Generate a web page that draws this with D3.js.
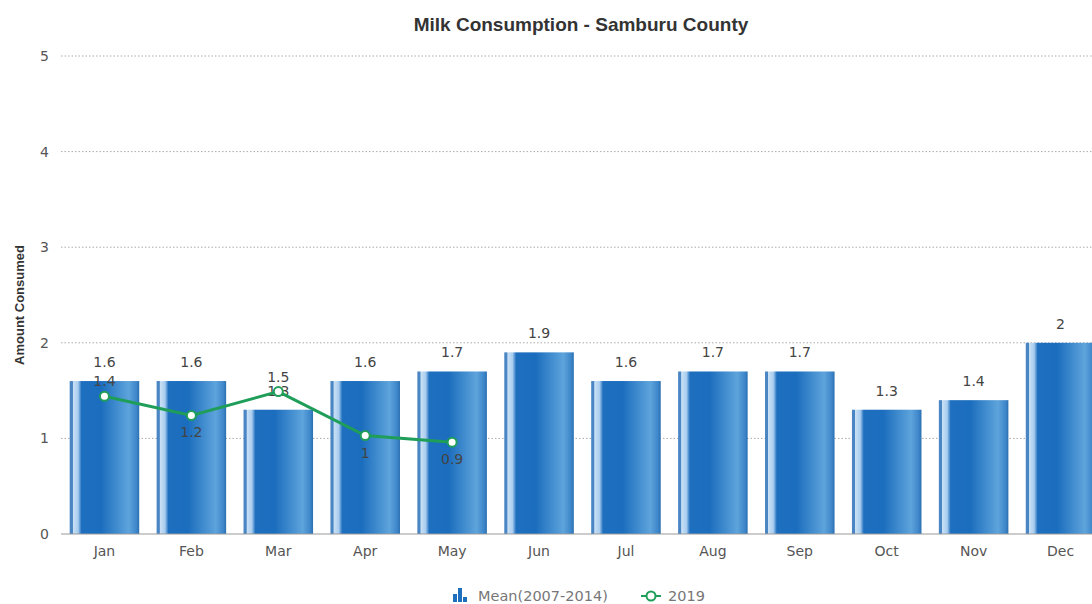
<!DOCTYPE html>
<html lang="en">
<head>
<meta charset="utf-8">
<script src="https://cdn.jsdelivr.net/npm/d3@7/dist/d3.min.js"></script>
<style>
body { margin: 0; background: #fff; font-family: "DejaVu Sans", sans-serif; }
svg { display: block; }
.tick text { fill: #555; font-size: 14px; font-family: "DejaVu Sans", sans-serif; }
.vlabel { fill: #444; font-size: 14px; text-anchor: middle; }
</style>
</head>
<body>
<script>
// chart data
var months = ["Jan", "Feb", "Mar", "Apr", "May", "Jun", "Jul", "Aug", "Sep", "Oct", "Nov", "Dec"];
var meanValues = [1.6, 1.6, 1.3, 1.6, 1.7, 1.9, 1.6, 1.7, 1.7, 1.3, 1.4, 2];
var values2019 = [1.44, 1.24, 1.49, 1.03, 0.96];
var labels2019 = ["1.4", "1.2", "1.5", "1", "0.9"];
var yTicks = [0, 1, 2, 3, 4, 5];

var width = 1092, height = 604;
var margin = {top: 56, right: -12, bottom: 70, left: 61};
var innerW = width - margin.left - margin.right;
var innerH = height - margin.top - margin.bottom;

var svg = d3.select("body").append("svg")
  .attr("width", width)
  .attr("height", height);

// bar gradient
var defs = svg.append("defs");
var grad = defs.append("linearGradient").attr("id", "barGrad")
  .attr("x1", "0%").attr("x2", "100%").attr("y1", "0%").attr("y2", "0%");
[[0, "#4a86c4"], [0.04, "#4a86c4"], [0.05, "#c9e0f4"], [0.12, "#a9cdef"], [0.17, "#1f6fbf"],
 [0.45, "#1b6dbd"], [0.85, "#5ea4dc"], [0.96, "#3d86c9"], [1, "#2a6fb0"]].forEach(function(s) {
  grad.append("stop").attr("offset", s[0]).attr("stop-color", s[1]);
});

var g = svg.append("g").attr("transform", "translate(" + margin.left + "," + margin.top + ")");

var x = d3.scaleBand().domain(months).range([0, innerW]).paddingInner(0.2).paddingOuter(0.1);
var y = d3.scaleLinear().domain([0, 5]).range([innerH, 0]);

// grid
g.selectAll(".grid").data(yTicks.filter(function(d) { return d > 0; })).enter()
  .append("line")
  .attr("x1", 0).attr("x2", innerW)
  .attr("y1", function(d) { return y(d); }).attr("y2", function(d) { return y(d); })
  .attr("stroke", "#aaa").attr("stroke-width", 1).attr("stroke-dasharray", "1.5,2");

// y axis
var yAxis = g.append("g").call(d3.axisLeft(y).tickValues(yTicks).tickFormat(d3.format("d")).tickSize(0).tickPadding(12));
yAxis.select(".domain").remove();

// bars
g.selectAll(".bar").data(meanValues).enter()
  .append("rect")
  .attr("x", function(d, i) { return x(months[i]); })
  .attr("y", function(d) { return y(d); })
  .attr("width", x.bandwidth())
  .attr("height", function(d) { return innerH - y(d); })
  .attr("fill", "url(#barGrad)");

// baseline
g.append("line").attr("x1", 0).attr("x2", innerW).attr("y1", innerH).attr("y2", innerH)
  .attr("stroke", "#999").attr("stroke-width", 1);

// x axis
var xAxis = g.append("g").attr("transform", "translate(0," + innerH + ")")
  .call(d3.axisBottom(x).tickSize(0).tickPadding(12));
xAxis.select(".domain").remove();

// bar labels
g.selectAll(".blabel").data(meanValues).enter()
  .append("text").attr("class", "vlabel")
  .attr("x", function(d, i) { return x(months[i]) + x.bandwidth() / 2; })
  .attr("y", function(d) { return y(d) - 14; })
  .text(function(d) { return d; });

// 2019 line
var cx = function(i) { return x(months[i]) + x.bandwidth() / 2; };
var line = d3.line().x(function(d, i) { return cx(i); }).y(function(d) { return y(d); });
g.append("path").datum(values2019)
  .attr("d", line).attr("fill", "none")
  .attr("stroke", "#1e9e58").attr("stroke-width", 3);

g.selectAll(".pt").data(values2019).enter()
  .append("circle")
  .attr("cx", function(d, i) { return cx(i); })
  .attr("cy", function(d) { return y(d); })
  .attr("r", 4.5)
  .attr("fill", "#fff").attr("stroke", "#1e9e58").attr("stroke-width", 2);

g.selectAll(".llabel").data(values2019).enter()
  .append("text").attr("class", "vlabel")
  .attr("x", function(d, i) { return cx(i); })
  .attr("y", function(d, i) {
    var above = i === 0 || d > values2019[i - 1];
    return above ? y(d) - 10 : y(d) + 22;
  })
  .text(function(d, i) { return labels2019[i]; });

// title
svg.append("text")
  .attr("x", 581).attr("y", 31)
  .attr("text-anchor", "middle")
  .attr("font-family", "Liberation Sans, Arial, sans-serif")
  .attr("font-size", 19).attr("font-weight", "bold").attr("fill", "#333")
  .text("Milk Consumption - Samburu County");

// y label
svg.append("text")
  .attr("transform", "translate(24," + (margin.top + innerH / 2 + 10) + ") rotate(-90)")
  .attr("text-anchor", "middle")
  .attr("font-family", "Liberation Sans, Arial, sans-serif")
  .attr("font-size", 13).attr("font-weight", "bold").attr("fill", "#333")
  .text("Amount Consumed");

// legend
var leg = svg.append("g").attr("transform", "translate(0,596)");
[[0, 8], [5, 14], [10, 5]].forEach(function(b) {
  leg.append("rect").attr("x", 453 + b[0]).attr("y", 6 - b[1])
    .attr("width", 4).attr("height", b[1]).attr("fill", "#1f6fbf");
});
leg.append("text").attr("x", 478).attr("y", 5).attr("font-size", 14.5).attr("fill", "#777")
  .text("Mean(2007-2014)");
leg.append("line").attr("x1", 641).attr("x2", 661).attr("y1", 0).attr("y2", 0)
  .attr("stroke", "#1e9e58").attr("stroke-width", 2);
leg.append("circle").attr("cx", 651).attr("cy", 0).attr("r", 4.5)
  .attr("fill", "#fff").attr("stroke", "#1e9e58").attr("stroke-width", 2);
leg.append("text").attr("x", 668).attr("y", 5).attr("font-size", 14.5).attr("fill", "#777")
  .text("2019");
</script>
</body>
</html>
